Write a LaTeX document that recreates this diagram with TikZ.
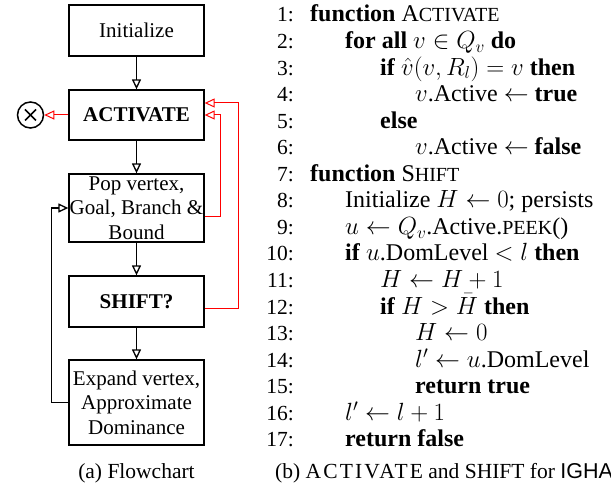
\documentclass[tikz,border=0pt]{standalone}
\usepackage{fontspec}
\setmainfont{Liberation Serif}
\newfontfamily\igfont{Liberation Sans}
\usepackage{amsmath}
\usetikzlibrary{arrows.meta}
\newcommand\sck[1]{{\fontsize{20}{22}\selectfont #1}}

\begin{document}
\begin{tikzpicture}[x=1pt,y=-1pt,
	block/.style={draw, line width=1.3pt, minimum width=135pt, inner sep=0pt, align=center, font=\fontsize{21}{24.5}\selectfont},
	flow/.style={line width=1.3pt, -{Triangle[open, length=10pt, width=9pt]}},
	back/.style={red, line width=1pt, -{Triangle[open, length=10pt, width=9pt]}},
	algnum/.style={anchor=base east, inner sep=0pt, text height=15pt, text depth=4pt, font=\fontsize{21.5}{26}\selectfont},
	algline/.style={anchor=base west, inner sep=0pt, text height=16pt, text depth=5pt, font=\fontsize{24}{26}\selectfont},
	caption/.style={inner sep=0pt, font=\fontsize{21.5}{26}\selectfont}]
					\useasboundingbox (0,0) rectangle (611,489);
					\clip (0,0) rectangle (611,489);
					%FLOWCHART
					\node[block, minimum height=51pt] (initbox) at (136.5,30.5) {Initialize};
					\node[block, minimum height=50pt, font=\fontsize{21}{24.5}\selectfont\bfseries] (actbox) at (136.5,115) {ACTIVATE};
					\node[block, minimum height=68pt] (popbox) at (136.5,208) {Pop vertex,\\Goal, Branch \&\\Bound};
					\node[block, minimum height=51pt, font=\fontsize{21}{24.5}\selectfont\bfseries] (shiftbox) at (136.5,301.5) {SHIFT?};
					\node[block, minimum height=85pt] (expbox) at (136.5,402.5) {Expand vertex,\\Approximate\\Dominance};
					\node[circle, draw, line width=1.5pt, minimum size=26pt, inner sep=0pt] (stop) at (30.5,115) {};
					\draw[line width=1.5pt] ([shift={(-5.5pt,-5.5pt)}]stop.center) -- ([shift={(5.5pt,5.5pt)}]stop.center);
					\draw[line width=1.5pt] ([shift={(-5.5pt,5.5pt)}]stop.center) -- ([shift={(5.5pt,-5.5pt)}]stop.center);
					\draw[flow] (initbox) -- (actbox);
					\draw[flow] (actbox) -- (popbox);
					\draw[flow] (popbox) -- (shiftbox);
					\draw[flow] (shiftbox) -- (expbox);
					\draw[flow] (expbox.west) -- ++(-17,0) |- (popbox.west);
					\draw[back] (actbox.west) -- (stop.east);
					\draw[back] ([yshift=-9pt]popbox.east) -- ++(16,0) |- (actbox.east);
					\draw[back] ([yshift=-7.5pt]shiftbox.east) -- ++(34,0) |- ([yshift=12pt]actbox.east);
					%ALGORITHM
					\foreach \n/\lev/\txt in {
						1/0/{\textbf{function} A\sck{CTIVATE}},
						2/1/{\textbf{for all} $v \in Q_v$ \textbf{do}},
						3/2/{\textbf{if} $\hat{v}(v,R_l)=v$ \textbf{then}},
						4/3/{$v$.Active $\leftarrow$ \textbf{true}},
						5/2/{\textbf{else}},
						6/3/{$v$.Active $\leftarrow$ \textbf{false}},
						7/0/{\textbf{function} S\sck{HIFT}},
						8/1/{Initialize $H \leftarrow 0$; persists},
						9/1/{$u \leftarrow Q_v$.Active.\sck{PEEK}()},
						10/1/{\textbf{if} $u$.DomLevel $< l$ \textbf{then}},
						11/2/{$H \leftarrow H+1$},
						12/2/{\textbf{if} $H > \bar{H}$ \textbf{then}},
						13/3/{$H \leftarrow 0$},
						14/3/{$l' \leftarrow u$.DomLevel},
						15/3/{\textbf{return true}},
						16/1/{$l' \leftarrow l+1$},
						17/1/{\textbf{return false}}}{
						\node[algnum] (num\n) at (294,{22+(\n-1)*26.55}) {\n:};
						\node[algline] (line\n) at ({310+35*\lev},{22+(\n-1)*26.55}) {\txt};
					}
					%CAPTIONS
					\node[caption, anchor=base] (capa) at (136.5,478) {(a) Flowchart};
					\node[caption, anchor=base west] (capb) at (275,478) {(b) {\addfontfeature{LetterSpace=10}ACTIVATE} and SHIFT for {\igfont IGHA}};
	  \end{tikzpicture}
\end{document}
